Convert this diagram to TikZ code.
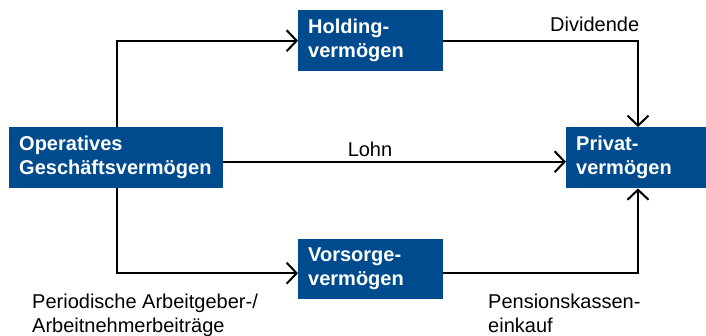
\documentclass[tikz,border=0pt]{standalone}
\usepackage{fontspec}
\setmainfont{Liberation Sans}
\usetikzlibrary{arrows.meta,calc}
\definecolor{boxblue}{RGB}{0,75,141}
\begin{document}
\begin{tikzpicture}[x=1pt,y=-1pt,
  box/.style={fill=boxblue,text=white,font=\bfseries\fontsize{20}{24}\selectfont,
    align=left,anchor=north west,inner xsep=10pt,inner ysep=0pt,
    minimum height=61pt,text width=#1},
  lbl/.style={font=\fontsize{20}{24}\selectfont,inner sep=0pt,align=left},
  arr/.style={line width=2pt,-{Straight Barb[length=10pt,width=21pt]}}]
\useasboundingbox (0,0) rectangle (706,336);
\node[box=194pt] (op) at (9,127) {Operatives\\Geschäftsvermögen};
\node[box=125pt] (hold) at (298,10) {Holding-\\vermögen};
\node[box=120pt] (priv) at (566,127) {Privat-\\vermögen};
\node[box=125pt,minimum height=60pt] (vor) at (298,239) {Vorsorge-\\vermögen};
\draw[arr] ($(op.north west)+(108,0)$) |- (hold.west);
\draw[arr] ($(op.south west)+(108,0)$) |- ($(vor.west)+(0,4)$);
\draw[arr] ($(op.east)+(0,4)$) -- ($(priv.west)+(0,4)$);
\draw[arr] (hold.east) -| ($(priv.north west)+(72,0)$);
\draw[arr] ($(vor.east)+(0,4)$) -| ($(priv.south west)+(72,0)$);
\node[lbl,anchor=base] (lohn) at (370,157) {Lohn};
\node[lbl,anchor=base west] (div) at (550,32) {Dividende};
\node[lbl,anchor=base west] (per) at (32,332) {Periodische Arbeitgeber-/\\Arbeitnehmerbeiträge};
\node[lbl,anchor=base west] (pen) at (488,332) {Pensionskassen-\\einkauf};
\end{tikzpicture}
\end{document}
